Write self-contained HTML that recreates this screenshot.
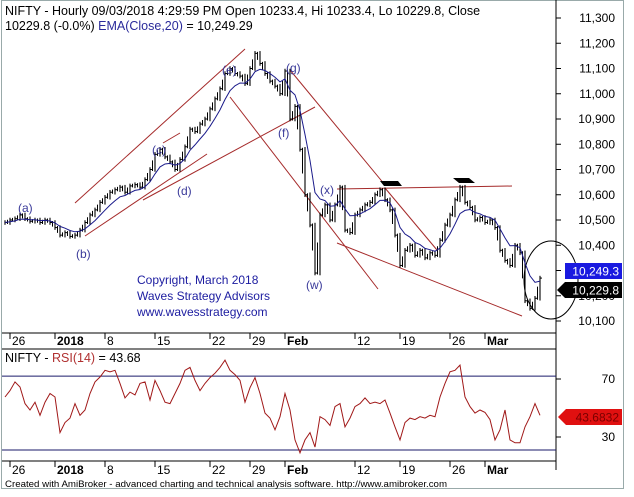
<!DOCTYPE html>
<html><head><meta charset="utf-8"><style>
html,body{margin:0;padding:0;background:#fff;}
svg{display:block;font-family:"Liberation Sans",sans-serif;}
</style></head><body>
<svg id="chart" width="634" height="497" viewBox="0 0 634 497">
<rect x="0" y="0" width="634" height="497" fill="#fff"/>
<rect x="1.5" y="0.5" width="622" height="488" fill="none" stroke="#9aa" stroke-width="1"/>
<text x="5" y="15" font-size="12.5" fill="#000">NIFTY - Hourly 09/03/2018 4:29:59 PM Open 10233.4, Hi 10233.4, Lo 10229.8, Close</text>
<text x="5" y="30" font-size="12.5" fill="#000">10229.8 (-0.0%) <tspan fill="#2a2a9a">EMA(Close,20)</tspan> = 10,249.29</text>
<line x1="556" y1="0" x2="556" y2="470" stroke="#000"/>
<line x1="2" y1="333" x2="556" y2="333" stroke="#000"/>
<line x1="2" y1="349" x2="556" y2="349" stroke="#000"/>
<line x1="2" y1="461" x2="556" y2="461" stroke="#000"/>
<g id="annot" stroke="#a52a2a" stroke-width="1" fill="none">
<line x1="75" y1="203" x2="245" y2="49"/>
<line x1="163" y1="143" x2="180" y2="133"/>
<line x1="85" y1="236" x2="207" y2="154"/>
<line x1="143" y1="200" x2="315" y2="107"/>
<line x1="230" y1="97" x2="378" y2="289"/>
<line x1="290" y1="70" x2="385" y2="185"/>
<line x1="385" y1="188" x2="437" y2="250"/>
<line x1="337" y1="243" x2="522" y2="316"/>
<line x1="337" y1="189" x2="512" y2="186"/>
</g>
<polygon points="380,181 398,181 402,186 384,186" fill="#000"/>
<polygon points="453,178 469,178 475,183 459,183" fill="#000"/>
<ellipse cx="551" cy="280" rx="27" ry="39" fill="none" stroke="#000"/>
<g id="bars"></g>
<polyline id="ema" fill="none" stroke="#1a1a8a" stroke-width="1"/>
<g font-size="12" fill="#3a3a9a">
<text x="18" y="212">(a)</text><text x="76" y="258">(b)</text><text x="152" y="154">(c)</text>
<text x="177" y="195">(d)</text><text x="222" y="74">(e)</text><text x="278" y="137">(f)</text>
<text x="286" y="72">(g)</text><text x="306" y="289">(w)</text><text x="320" y="194">(x)</text>
</g>
<g font-size="12" fill="#1c1ca0">
<text x="137" y="284">Copyright, March 2018</text>
<text x="137" y="300">Waves Strategy Advisors</text>
<text x="137" y="316">www.wavesstrategy.com</text>
</g>
<g id="yaxis" font-size="12" fill="#000"></g>
<g id="xaxis1" font-size="12" fill="#000"></g>
<g id="xaxis2" font-size="12" fill="#000"></g>
<text x="5" y="362" font-size="12.5" fill="#000">NIFTY - <tspan fill="#b03030">RSI(14)</tspan> = 43.68</text>
<g id="rsiLevels"></g>
<polyline id="rsi" fill="none" stroke="#a01818" stroke-width="1"/>
<g id="rsiAxis" font-size="12" fill="#000"></g>
<rect x="565" y="263" width="57" height="16" fill="#1a1ae0"/>
<text x="619" y="275.5" font-size="12" fill="#fff" text-anchor="end">10,249.3</text>
<polygon points="557,290 565,282 622,282 622,298 565,298" fill="#000"/>
<text x="619" y="294.5" font-size="12" fill="#fff" text-anchor="end">10,229.8</text>
<polygon points="558,417 566,409 622,409 622,425 566,425" fill="#e01010"/>
<text x="619" y="421.5" font-size="12" fill="#7a0000" text-anchor="end">43.6832</text>
<text x="5" y="487" font-size="9.5" fill="#000" textLength="442" lengthAdjust="spacingAndGlyphs">Created with AmiBroker - advanced charting and technical analysis software. http://www.amibroker.com</text>
</svg>
<script>
const closes=[10490,10500,10505,10520,10505,10495,10500,10490,10500,10490,10470,10440,10450,10435,10440,10460,10490,10520,10540,10570,10590,10610,10620,10630,10610,10635,10640,10630,10660,10700,10760,10780,10750,10730,10700,10740,10790,10860,10850,10880,10900,10940,10980,11020,11080,11100,11080,11070,11040,11100,11160,11120,11080,11050,11030,11000,11090,10900,10950,10780,10600,10480,10290,10520,10560,10500,10560,10630,10460,10450,10520,10540,10560,10570,10600,10620,10580,10540,10440,10320,10380,10400,10360,10380,10350,10370,10360,10420,10480,10520,10580,10630,10570,10550,10500,10510,10490,10500,10470,10380,10340,10320,10400,10370,10180,10150,10190,10270];
const rsiValues=[57.6,62,68,64.5,53,48.6,54,45,54,60,57.6,33,40,43,53,45,48.6,60,68,71.4,76,75,76,67,57,61,59,67,68,55.5,69,62,54,53,60,67,76,78,69,62,67,71,74,78,83,76,73,69,54,64,71,60,46.5,43,35,44,60,48.6,28,19,28,33,23,44,42,38,51,53,37,43,51,53,57,53,54,53,55.5,46.5,37,28,40,43,42,44,43,45,44,57.6,67,75,76,79.6,57.6,51,46.5,48.6,47,42,28,35,48.6,28,26,26,37,44,53,45];
const priceTicks=[11300,11200,11100,11000,10900,10800,10700,10600,10500,10400,10300,10200,10100];
const rsiTicks=[70,30];
const rsiLevelValues=[72,21];
const dateLabels=["26","2018","8","15","22","29","Feb","12","19","26","Mar"];
const dateIndex=[1,10,20,30,41,49,56,70,79,89,96];
const boldDates=["2018","Feb","Mar"];
const NS="http://www.w3.org/2000/svg";
function xs(i){return 5+i*5;}
function yp(p){return 18+(11300-p)*0.2525;}
function yr(r){return 379+(70-r)*1.45;}
function mk(tag,attrs,parent){const e=document.createElementNS(NS,tag);for(const k in attrs)e.setAttribute(k,attrs[k]);parent.appendChild(e);return e;}
const bars=document.getElementById('bars');
for(let i=0;i<closes.length;i++){
  const prev=i>0?closes[i-1]:closes[i];
  const hi=Math.max(prev,closes[i])+9, lo=Math.min(prev,closes[i])-9;
  const l=mk('line',{x1:xs(i),x2:xs(i),y1:yp(hi),y2:yp(lo),stroke:'#000','stroke-width':1.1},bars);
  
  
  const t=mk('line',{x1:xs(i),x2:xs(i)+2,y1:yp(closes[i]),y2:yp(closes[i]),stroke:'#000','stroke-width':1},bars);
  
  
  if(i>0){
    const mid=(prev+closes[i])/2;
    const m=mk('line',{x1:xs(i)-2.5,x2:xs(i)-2.5,y1:yp(Math.max(prev,mid)+6),y2:yp(Math.min(prev,mid)-6),stroke:'#000','stroke-width':1},bars);
    
    
  }
}
let ema=closes[0],pts=[];const k=2/(6+1);
for(let i=0;i<closes.length;i++){ema=i?closes[i]*k+ema*(1-k):closes[0];pts.push(xs(i)+','+yp(ema).toFixed(1));}
document.getElementById('ema').setAttribute('points',pts.join(' '));
const ya=document.getElementById('yaxis');
priceTicks.forEach(p=>{
  const l=mk('line',{x1:556,x2:561,y1:yp(p),y2:yp(p),stroke:'#000'},ya);
  
  
  const t=mk('text',{x:615,y:yp(p)+4,'text-anchor':'end'},ya);
  
  
  t.textContent=p.toLocaleString('en-US');
});
function xAxis(id,y0,y1){
  const g=document.getElementById(id);
  dateLabels.forEach((d,j)=>{
    const x=xs(dateIndex[j]);
    const l=mk('line',{x1:x,x2:x,y1:y0,y2:y0+6,stroke:'#000'},g);
    
    
    const t=mk('text',{x:x+2,y:y1},g);
    
    
    if(boldDates.includes(d))t.setAttribute('font-weight','bold');
    t.textContent=d;
  });
}
xAxis('xaxis1',333,345);
xAxis('xaxis2',461,474);
const lv=document.getElementById('rsiLevels');
rsiLevelValues.forEach(v=>{
  const l=mk('line',{x1:2,x2:556,y1:yr(v),y2:yr(v),stroke:'#1a1a6a','stroke-width':1},lv);
  
  
});
document.getElementById('rsi').setAttribute('points',rsiValues.map((r,i)=>xs(i)+','+yr(r).toFixed(1)).join(' '));
const ra=document.getElementById('rsiAxis');
rsiTicks.forEach(v=>{
  const l=mk('line',{x1:556,x2:561,y1:yr(v),y2:yr(v),stroke:'#000'},ra);
  
  
  const t=mk('text',{x:615,y:yr(v)+4,'text-anchor':'end'},ra);
  
  
  t.textContent=v;
});
</script>
</body></html>
